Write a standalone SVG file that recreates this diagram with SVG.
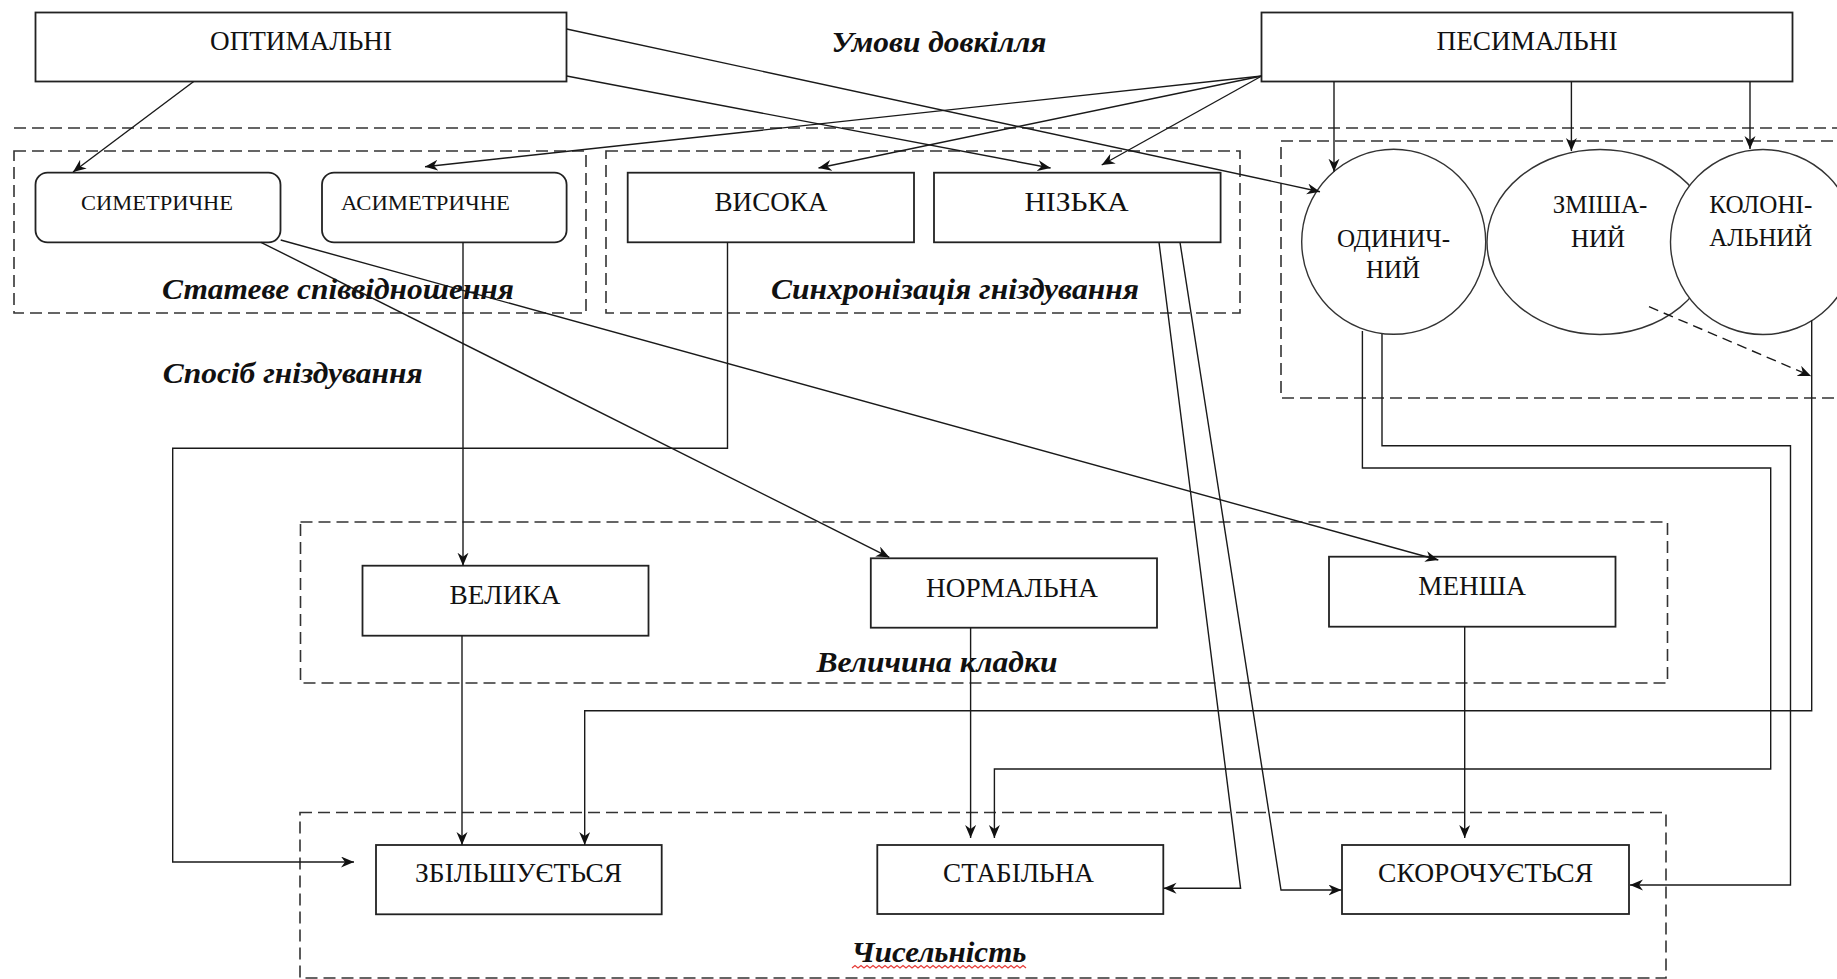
<svg xmlns="http://www.w3.org/2000/svg" width="1837" height="979" viewBox="0 0 1837 979">
<defs>
<marker id="arr" markerUnits="userSpaceOnUse" markerWidth="14" markerHeight="12" refX="13" refY="5.5" orient="auto">
<path d="M0,0 L13,5.5 L0,11 L4,5.5 z" fill="#111"/>
</marker>
<style>
.box{fill:#fff;stroke:#222;stroke-width:1.8}
.ell{fill:#fff;stroke:#333;stroke-width:1.4}
.grp{fill:none;stroke:#333;stroke-width:1.6;stroke-dasharray:12 6}
.ln{fill:none;stroke:#1a1a1a;stroke-width:1.4}
.ar{fill:none;stroke:#1a1a1a;stroke-width:1.4;marker-end:url(#arr)}
.dar{fill:none;stroke:#1a1a1a;stroke-width:1.4;stroke-dasharray:10 6;marker-end:url(#arr)}
.t{font-family:"Liberation Serif","Times New Roman",serif;font-size:27px;fill:#111;text-anchor:middle}
.ts{font-family:"Liberation Serif","Times New Roman",serif;font-size:22px;fill:#111;text-anchor:middle}
.tc{font-family:"Liberation Serif","Times New Roman",serif;font-size:25px;fill:#111;text-anchor:middle}
.lab{font-family:"Liberation Serif","Times New Roman",serif;font-size:30px;font-weight:bold;font-style:italic;fill:#111;text-anchor:middle}
</style>
</defs>
<rect width="1837" height="979" fill="#fff"/>

<g id="groups">
<line class="grp" x1="14" y1="128" x2="1837" y2="128"/>
<rect id="grp-sex" class="grp" x="14" y="151" width="572" height="162"/>
<rect id="grp-sync" class="grp" x="606" y="151" width="634" height="162"/>
<rect id="grp-way" class="grp" x="1281" y="141" width="580" height="257"/>
<rect id="grp-clutch" class="grp" x="300.5" y="522" width="1367" height="161"/>
<rect id="grp-pop" class="grp" x="300" y="812.5" width="1366" height="165.5"/>
</g>

<g id="labels">
<text class="lab" x="939" y="52" textLength="215" lengthAdjust="spacingAndGlyphs">Умови довкілля</text>
<text class="lab" x="338" y="299" textLength="352" lengthAdjust="spacingAndGlyphs">Статеве співвідношення</text>
<text class="lab" x="955" y="299" textLength="368" lengthAdjust="spacingAndGlyphs">Синхронізація гніздування</text>
<text class="lab" x="292.7" y="383" textLength="260" lengthAdjust="spacingAndGlyphs">Спосіб гніздування</text>
<text class="lab" x="937" y="672" textLength="241" lengthAdjust="spacingAndGlyphs">Величина кладки</text>
<text class="lab" x="939" y="962" textLength="175" lengthAdjust="spacingAndGlyphs">Чисельність</text>
<path d="M852,968 l3,-2.5 l3,2.5 l3,-2.5 l3,2.5 l3,-2.5 l3,2.5 l3,-2.5 l3,2.5 l3,-2.5 l3,2.5 l3,-2.5 l3,2.5 l3,-2.5 l3,2.5 l3,-2.5 l3,2.5 l3,-2.5 l3,2.5 l3,-2.5 l3,2.5 l3,-2.5 l3,2.5 l3,-2.5 l3,2.5 l3,-2.5 l3,2.5 l3,-2.5 l3,2.5 l3,-2.5 l3,2.5 l3,-2.5 l3,2.5 l3,-2.5 l3,2.5 l3,-2.5 l3,2.5 l3,-2.5 l3,2.5 l3,-2.5 l3,2.5 l3,-2.5 l3,2.5 l3,-2.5 l3,2.5 l3,-2.5 l3,2.5 l3,-2.5 l3,2.5 l3,-2.5 l3,2.5 l3,-2.5 l3,2.5 l3,-2.5 l3,2.5 l3,-2.5 l3,2.5 l3,-2.5 l3,2.5" fill="none" stroke="#e53935" stroke-width="1.2"/>
</g>

<g id="n-opt">
<rect class="box" x="35.5" y="12.5" width="531" height="69"/>
<text class="t" x="301" y="50" textLength="182" lengthAdjust="spacingAndGlyphs">ОПТИМАЛЬНІ</text>
</g>
<g id="n-pes">
<rect class="box" x="1261.5" y="12.5" width="531" height="69"/>
<text class="t" x="1527" y="50" textLength="181" lengthAdjust="spacingAndGlyphs">ПЕСИМАЛЬНІ</text>
</g>
<g id="n-sym">
<rect class="box" x="35.5" y="172.7" width="245" height="69.6" rx="12"/>
<text class="ts" x="157" y="210" textLength="152" lengthAdjust="spacingAndGlyphs">СИМЕТРИЧНЕ</text>
</g>
<g id="n-asym">
<rect class="box" x="322" y="172.7" width="244.6" height="69.6" rx="12"/>
<text class="ts" x="425.5" y="210" textLength="169" lengthAdjust="spacingAndGlyphs">АСИМЕТРИЧНЕ</text>
</g>
<g id="n-high">
<rect class="box" x="627.7" y="172.7" width="286.3" height="69.6"/>
<text class="t" x="771" y="211" textLength="113" lengthAdjust="spacingAndGlyphs">ВИСОКА</text>
</g>
<g id="n-low">
<rect class="box" x="934" y="172.7" width="286.6" height="69.6"/>
<text class="t" x="1076.5" y="211" textLength="104" lengthAdjust="spacingAndGlyphs">НІЗЬКА</text>
</g>
<g id="n-single">
<ellipse class="ell" cx="1393.7" cy="241.8" rx="92" ry="92.5"/>
<text class="tc" x="1393.5" y="246.7" textLength="113" lengthAdjust="spacingAndGlyphs">ОДИНИЧ-</text>
<text class="tc" x="1393" y="278" textLength="54" lengthAdjust="spacingAndGlyphs">НИЙ</text>
</g>
<g id="n-mixed">
<ellipse class="ell" cx="1600" cy="242" rx="113" ry="92.5"/>
<text class="tc" x="1600" y="213" textLength="94.5" lengthAdjust="spacingAndGlyphs">ЗМІША-</text>
<text class="tc" x="1598" y="246.7" textLength="54" lengthAdjust="spacingAndGlyphs">НИЙ</text>
</g>
<g id="n-colonial">
<circle class="ell" cx="1763" cy="242" r="92.5"/>
<text class="tc" x="1760.8" y="213.3" textLength="103" lengthAdjust="spacingAndGlyphs">КОЛОНІ-</text>
<text class="tc" x="1760.8" y="245.7" textLength="103" lengthAdjust="spacingAndGlyphs">АЛЬНИЙ</text>
</g>
<g id="n-big">
<rect class="box" x="362.5" y="565.7" width="286" height="70"/>
<text class="t" x="505" y="604" textLength="111" lengthAdjust="spacingAndGlyphs">ВЕЛИКА</text>
</g>
<g id="n-normal">
<rect class="box" x="870.8" y="558.3" width="286.2" height="69.4"/>
<text class="t" x="1012" y="596.7" textLength="172" lengthAdjust="spacingAndGlyphs">НОРМАЛЬНА</text>
</g>
<g id="n-less">
<rect class="box" x="1329" y="556.7" width="286.5" height="70"/>
<text class="t" x="1472" y="595" textLength="107.6" lengthAdjust="spacingAndGlyphs">МЕНША</text>
</g>
<g id="n-inc">
<rect class="box" x="376" y="845" width="285.7" height="69.3"/>
<text class="t" x="518.6" y="882" textLength="207" lengthAdjust="spacingAndGlyphs">ЗБІЛЬШУЄТЬСЯ</text>
</g>
<g id="n-stable">
<rect class="box" x="877.3" y="845" width="286" height="69"/>
<text class="t" x="1018.5" y="882" textLength="151" lengthAdjust="spacingAndGlyphs">СТАБІЛЬНА</text>
</g>
<g id="n-dec">
<rect class="box" x="1342" y="845" width="287" height="69"/>
<text class="t" x="1485.6" y="882" textLength="215" lengthAdjust="spacingAndGlyphs">СКОРОЧУЄТЬСЯ</text>
</g>

<g id="connectors">
<line class="ar" x1="193.7" y1="81.5" x2="73" y2="172"/>
<line class="ar" x1="566.6" y1="29" x2="1320" y2="191.7"/>
<line class="ar" x1="566.6" y1="76" x2="1050.6" y2="168"/>
<line class="ar" x1="1261.7" y1="76" x2="425" y2="166.7"/>
<line class="ar" x1="1261.7" y1="76" x2="818.5" y2="168"/>
<line class="ar" x1="1261.7" y1="76" x2="1101.7" y2="165"/>
<line class="ar" x1="1334" y1="81.7" x2="1334" y2="171.7"/>
<line class="ar" x1="1571.4" y1="81.7" x2="1571.4" y2="151"/>
<line class="ar" x1="1750" y1="81.7" x2="1750" y2="149"/>
<line class="ar" x1="261" y1="242.3" x2="889.3" y2="557.3"/>
<line class="ar" x1="280.7" y1="240" x2="1438.3" y2="560"/>
<line class="ar" x1="463" y1="242.3" x2="463" y2="565.7"/>
<polyline class="ar" points="727.5,242.3 727.5,448.3 172.7,448.3 172.7,862 354,862"/>
<polyline class="ar" points="1159,242.3 1240.6,888.3 1163.5,888.3"/>
<polyline class="ar" points="1180,242.3 1281,890 1341.5,890"/>
<line class="ar" x1="462" y1="635.7" x2="462" y2="845"/>
<line class="ar" x1="970.6" y1="627.7" x2="970.6" y2="838"/>
<line class="ar" x1="1464.7" y1="626.7" x2="1464.7" y2="838"/>
<polyline class="ar" points="1362.4,331 1362.4,468 1770.7,468 1770.7,769 994.4,769 994.4,838"/>
<polyline class="ar" points="1382,334 1382,445.7 1790.5,445.7 1790.5,885 1630,885"/>
<polyline class="ar" points="1811.7,320.5 1811.7,710.7 584.7,710.7 584.7,845"/>
<line class="dar" x1="1649" y1="306.7" x2="1811" y2="376"/>
</g>
</svg>
